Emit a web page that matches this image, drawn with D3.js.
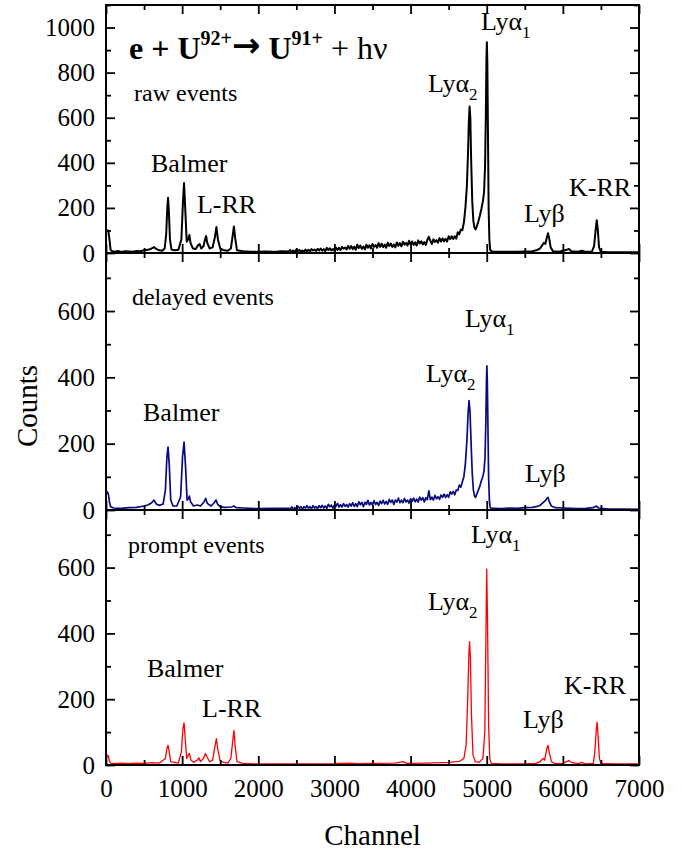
<!DOCTYPE html>
<html><head><meta charset="utf-8">
<script src="https://cdn.jsdelivr.net/npm/d3@7"></script>
<style>
body{margin:0;background:#fff}
text{font-family:"Liberation Serif","Times New Roman",serif;fill:#000}
</style>
</head><body>
<svg id="chart" width="687" height="851"></svg>
<script>
// ---------- data (channel, counts) ----------
const xTicks = [0,1000,2000,3000,4000,5000,6000,7000];
const xMinor = [500,1500,2500,3500,4500,5500,6500];
const yTicksTop = [0,200,400,600,800,1000];
const yMinorTop = [100,300,500,700,900,1100];
const yTicksLow = [0,200,400,600];
const yMinorLow = [100,300,500,700];

const rawEvents = [[0,95],[15,100],[30,100],[45,60],[60,15],[80,8],[120,6],[160,9],[200,5],[250,8],[300,7],[350,6],[400,9],[450,8],[500,12],[550,14],[600,20],[630,26],[660,18],[700,12],[740,10],[770,20],[790,80],[805,200],[815,245],[825,190],[840,60],[860,15],[900,12],[950,14],[990,60],[1010,220],[1025,310],[1040,200],[1060,50],[1080,60],[1095,80],[1110,45],[1140,20],[1180,18],[1210,35],[1230,40],[1250,20],[1280,30],[1300,60],[1315,75],[1330,45],[1360,20],[1400,25],[1430,70],[1450,115],[1470,60],[1500,20],[1550,12],[1600,10],[1640,20],[1665,80],[1680,118],[1695,70],[1720,12],[1800,8],[1900,6],[2000,5],[2100,7],[2200,5],[2300,8],[2400,7],
[2420,13],[2440,5],[2460,11],[2480,4],[2500,15],[2520,8],[2540,13],[2560,6],[2580,11],[2600,5],[2620,15],[2640,8],[2660,14],[2680,7],[2700,17],[2720,11],[2740,15],[2760,9],[2780,19],[2800,11],
[2820,20],[2840,10],[2860,17],[2880,8],[2900,23],[2920,13],[2940,21],[2960,11],[2980,18],[3000,9],[3020,24],[3040,14],[3060,23],[3080,13],[3100,27],[3120,19],[3140,24],[3160,16],[3180,31],[3200,19],
[3220,31],[3240,17],[3260,28],[3280,14],[3300,37],[3320,22],[3340,33],[3360,18],[3380,29],[3400,16],[3420,37],[3440,23],[3460,34],[3480,20],[3500,40],[3520,27],[3540,35],[3560,23],[3580,44],[3600,27],
[3620,41],[3640,26],[3660,37],[3680,23],[3700,46],[3720,31],[3740,42],[3760,27],[3780,38],[3800,25],[3820,47],[3840,32],[3860,44],[3880,29],[3900,50],[3920,37],[3940,45],[3960,33],[3980,54],[4000,37],
[4020,51],[4040,36],[4060,47],[4080,33],[4100,56],[4120,42],[4140,52],[4160,38],[4180,48],[4200,36],[4220,58],[4240,72],[4260,55],[4280,40],[4300,61],[4320,49],[4340,57],[4360,46],[4380,66],[4400,51],
[4420,65],[4440,52],[4460,63],[4480,51],[4500,74],[4520,62],[4540,74],[4560,62],[4580,74],[4600,64],[4620,92],[4640,83],[4660,104],[4680,101],[4700,135],
[4720,200],[4740,300],[4755,450],[4765,580],[4775,650],[4785,600],[4795,420],[4810,230],[4825,140],[4840,112],[4855,105],[4870,118],[4890,140],[4910,165],[4930,195],[4950,230],[4965,270],[4978,380],[4988,600],[4996,850],[5002,935],[5008,850],[5016,550],[5025,200],[5035,60],[5045,15],[5060,8],[5100,5],[5200,6],[5300,5],[5400,6],[5500,7],[5600,8],[5650,12],[5700,20],[5730,35],[5750,45],[5770,40],[5790,70],[5805,88],[5820,65],[5840,25],[5870,8],[5950,6],[6000,10],[6050,14],[6080,18],[6110,8],[6200,6],[6250,10],[6300,5],[6380,5],[6410,30],[6430,100],[6445,145],[6460,100],[6475,25],[6500,5],[6600,3],[6800,3],[7000,3]];

const delayedEvents = [[0,45],[15,55],[30,50],[45,25],[60,10],[100,6],[200,5],[300,7],[400,8],[500,12],[550,15],[600,22],[630,30],[660,18],[700,14],[750,18],[780,60],[800,160],[815,190],[830,140],[850,30],[880,12],[930,12],[980,40],[1005,160],[1025,205],[1045,130],[1065,30],[1085,35],[1095,42],[1110,25],[1150,12],[1200,15],[1240,12],[1290,25],[1310,35],[1330,20],[1380,12],[1420,22],[1445,30],[1465,18],[1500,10],[1550,8],[1650,9],[1680,12],[1710,7],[1800,6],[2000,4],[2200,5],[2400,5],
[2420,3],[2440,9],[2460,2],[2480,7],[2500,2],[2520,11],[2540,5],[2560,10],[2580,2],[2600,10],[2620,6],[2640,13],[2660,5],[2680,10],[2700,4],[2720,13],[2740,6],[2760,10],[2780,4],[2800,13],
[2820,7],[2840,14],[2860,6],[2880,12],[2900,5],[2920,17],[2940,10],[2960,15],[2980,5],[3000,15],[3020,11],[3040,20],[3060,9],[3080,16],[3100,9],[3120,19],[3140,11],[3160,16],[3180,9],[3200,19],
[3220,12],[3240,22],[3260,11],[3280,19],[3300,10],[3320,25],[3340,16],[3360,23],[3380,10],[3400,23],[3420,17],[3440,29],[3460,15],[3480,23],[3500,15],[3520,28],[3540,17],[3560,23],[3580,14],[3600,27],
[3620,19],[3640,29],[3660,18],[3680,26],[3700,17],[3720,32],[3740,23],[3760,30],[3780,17],[3800,30],[3820,24],[3840,36],[3860,22],[3880,30],[3900,22],[3920,35],[3940,24],[3960,30],[3980,21],[4000,34],
[4020,26],[4040,36],[4060,25],[4080,33],[4100,24],[4120,39],[4140,30],[4160,37],[4180,24],[4200,37],[4220,31],[4240,58],[4260,31],[4280,39],[4300,30],[4320,44],[4340,34],[4360,40],[4380,32],[4400,45],
[4420,38],[4440,48],[4460,38],[4480,46],[4500,38],[4520,55],[4540,48],[4560,56],[4580,46],[4600,60],[4620,59],[4640,75],[4660,69],[4680,85],[4700,100],
[4720,140],[4740,210],[4755,290],[4768,330],[4780,300],[4795,200],[4810,110],[4825,60],[4840,42],[4855,38],[4870,48],[4890,60],[4910,72],[4930,88],[4950,102],[4965,118],[4978,160],[4988,260],[4996,380],[5002,435],[5008,390],[5016,250],[5025,100],[5035,30],[5045,8],[5060,5],[5100,5],[5200,4],[5300,6],[5400,5],[5500,7],[5600,8],[5650,10],[5700,14],[5740,22],[5770,28],[5790,35],[5805,38],[5820,26],[5850,12],[5900,7],[6000,6],[6100,5],[6200,4],[6300,5],[6400,7],[6440,12],[6470,6],[6600,3],[6800,3],[7000,2]];

const promptEvents = [[0,20],[15,30],[30,28],[45,12],[60,6],[100,4],[200,6],[300,4],[400,6],[500,5],[600,7],[700,6],[780,20],[800,50],[815,60],[830,40],[850,10],[950,6],[990,40],[1010,110],[1025,128],[1040,80],[1060,20],[1080,30],[1095,35],[1115,15],[1150,8],[1200,15],[1220,22],[1240,10],[1280,20],[1305,35],[1325,25],[1360,10],[1400,15],[1430,55],[1450,80],[1470,45],[1500,12],[1550,8],[1600,6],[1640,20],[1665,75],[1680,105],[1695,60],[1720,10],[1800,5],[2000,3],[2500,3],[3000,4],[3200,6],[3300,4],[3500,5],[3800,6],[3900,10],[3950,5],[4200,6],[4400,7],[4500,8],[4600,10],[4650,12],[4700,20],[4730,60],[4750,200],[4765,330],[4775,375],[4785,330],[4800,150],[4820,30],[4850,10],[4900,8],[4950,20],[4975,100],[4990,400],[5000,595],[5010,450],[5025,120],[5040,20],[5060,5],[5200,3],[5500,3],[5650,5],[5700,10],[5740,20],[5760,15],[5790,50],[5805,60],[5820,40],[5850,10],[5900,4],[6000,5],[6050,10],[6080,14],[6110,8],[6200,4],[6250,8],[6300,3],[6400,5],[6420,40],[6440,110],[6450,130],[6465,80],[6480,20],[6500,5],[6700,3],[7000,3]];

// annotations: [text, subscript, channel, counts, kind]
const rawLabels = [["raw events","",368,674,"s"],["Balmer","",591,359,"l"],["L-RR","",1195,177,"l"],["Lyα","2",4229,714,"l"],["Lyα","1",4925,989,"l"],["Lyβ","",5490,137,"l"],["K-RR","",6081,253,"l"]];
const delayedLabels = [["delayed events","",341,618,"s"],["Lyα","1",4715,552,"l"],["Lyα","2",4203,386,"l"],["Balmer","",486,268,"l"],["Lyβ","",5503,84,"l"]];
const promptLabels = [["prompt events","",289,645,"s"],["Lyα","1",4794,676,"l"],["Lyα","2",4229,470,"l"],["Balmer","",538,267,"l"],["L-RR","",1261,145,"l"],["Lyβ","",5477,112,"l"],["K-RR","",6015,215,"l"]];

// ---------- layout ----------
const FONT = "Liberation Serif, Times New Roman, serif";
const svg = d3.select("#chart");
const L = 106, R = 639;
const x = d3.scaleLinear().domain([0,7000]).range([L,R]);

const panels = [
  {top:5,   bottom:253, ymax:1100, ticks:yTicksTop, minor:yMinorTop, data:rawEvents,     color:"#000000", sw:2.0, labels:rawLabels},
  {top:253, bottom:510, ymax:775,  ticks:yTicksLow, minor:yMinorLow, data:delayedEvents, color:"#0a0a80", sw:1.7, labels:delayedLabels},
  {top:510, bottom:765, ymax:775,  ticks:yTicksLow, minor:yMinorLow, data:promptEvents,  color:"#ff0000", sw:1.3, labels:promptLabels}
];

panels.forEach((p,i)=>{
  const y = d3.scaleLinear().domain([0,p.ymax]).range([p.bottom,p.top]);
  const g = svg.append("g");
  const cid = "clip"+i;
  svg.append("clipPath").attr("id",cid).append("rect")
     .attr("x",L).attr("y",p.top).attr("width",R-L).attr("height",p.bottom-p.top);

  const line = d3.line().x(d=>x(d[0])).y(d=>y(d[1]));
  g.append("path").datum(p.data).attr("d",line)
    .attr("fill","none").attr("stroke",p.color).attr("stroke-width",p.sw)
    .attr("stroke-linejoin","round").attr("clip-path",`url(#${cid})`);

  const styleAxis = sel => {
    sel.attr("font-family",FONT);
    sel.select(".domain").remove();
    sel.selectAll("line").attr("stroke","#000").attr("stroke-width",1.8);
    sel.selectAll("text").attr("font-size",25).attr("font-family",FONT).attr("fill","#000");
  };
  const fmt = d3.format("d");

  g.append("g").attr("transform",`translate(${L},0)`)
    .call(d3.axisLeft(y).tickValues(p.ticks).tickSize(-9).tickPadding(11).tickFormat(fmt)).call(styleAxis);
  g.append("g").attr("transform",`translate(${L},0)`)
    .call(d3.axisLeft(y).tickValues(p.minor).tickSize(-5).tickFormat("")).call(styleAxis);
  g.append("g").attr("transform",`translate(${R},0)`)
    .call(d3.axisRight(y).tickValues(p.ticks).tickSize(-9).tickFormat("")).call(styleAxis);
  g.append("g").attr("transform",`translate(${R},0)`)
    .call(d3.axisRight(y).tickValues(p.minor).tickSize(-5).tickFormat("")).call(styleAxis);
  g.append("g").attr("transform",`translate(0,${p.top})`)
    .call(d3.axisTop(x).tickValues(xTicks).tickSize(-9).tickFormat("")).call(styleAxis);
  g.append("g").attr("transform",`translate(0,${p.top})`)
    .call(d3.axisTop(x).tickValues(xMinor).tickSize(-5).tickFormat("")).call(styleAxis);
  const isLast = i===panels.length-1;
  g.append("g").attr("transform",`translate(0,${p.bottom})`)
    .call(d3.axisBottom(x).tickValues(xTicks).tickSize(-9).tickPadding(14).tickFormat(isLast?fmt:"")).call(styleAxis);
  g.append("g").attr("transform",`translate(0,${p.bottom})`)
    .call(d3.axisBottom(x).tickValues(xMinor).tickSize(-5).tickFormat("")).call(styleAxis);

  g.append("rect").attr("x",L).attr("y",p.top).attr("width",R-L).attr("height",p.bottom-p.top)
    .attr("fill","none").attr("stroke","#000").attr("stroke-width",2);

  p.labels.forEach(([t,sub,cx,cy,kind])=>{
    const tx = g.append("text").attr("x",x(cx)).attr("y",y(cy))
      .attr("font-family",FONT).attr("font-size",kind==="s"?24:26);
    tx.append("tspan").text(t);
    if(sub) tx.append("tspan").attr("font-size",17).attr("dy",8).text(sub);
  });

  if(i===0){
    const eq = g.append("text").attr("x",x(302)).attr("y",y(860)).attr("font-family",FONT)
      .attr("font-size",32).attr("font-weight","bold");
    eq.append("tspan").text("e + U");
    eq.append("tspan").attr("font-size",20).attr("dy",-14).text("92+");
    eq.append("tspan").attr("dy",12).attr("font-size",34).attr("font-family","DejaVu Sans").text("→");
    eq.append("tspan").attr("dy",2).text(" U");
    eq.append("tspan").attr("font-size",20).attr("dy",-14).text("91+");
    eq.append("tspan").attr("dy",14).attr("font-weight","normal").text(" + hν");
  }
});

svg.append("text").attr("x",(L+R)/2).attr("y",845).attr("text-anchor","middle")
  .attr("font-family",FONT).attr("font-size",29).text("Channel");
svg.append("text").attr("transform","translate(37,406) rotate(-90)").attr("text-anchor","middle")
  .attr("font-family",FONT).attr("font-size",29).text("Counts");
</script>
</body></html>
